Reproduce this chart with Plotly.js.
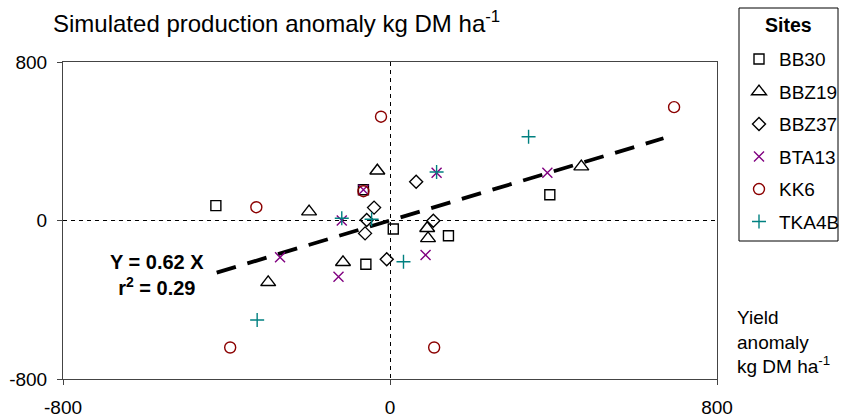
<!DOCTYPE html>
<html>
<head>
<meta charset="utf-8">
<script src="https://cdn.plot.ly/plotly-3.0.1.min.js"></script>
<style>html,body{margin:0;padding:0;background:#fff;}#chart{width:842px;height:417px;}</style>
</head>
<body>
<div id="chart"></div>
<script>
// Yield anomaly (x) vs simulated production anomaly (y), kg DM ha-1
var bb30X = [-426, -65, 8, 143, -59, 391];
var bb30Y = [75, 155, -43, -77, -221, 130];

var bbz19X = [-31, -198, 91, 93, -298, -115, 468];
var bbz19Y = [251, 45, -39, -90, -312, -211, 272];

var bbz37X = [-39, -57, -61, 64, 106, -8];
var bbz37Y = [65, 2, -65, 196, -1, -196];

var bta13X = [-65, -118, 114, 87, -269, -126, 385];
var bta13Y = [155, 0, 241, -174, -186, -284, 241];

var kk6X = [-22, -65, -327, -391, 108, 695];
var kk6Y = [524, 148, 67, -641, -641, 572];

var tka4bX = [-118, -45, 114, 33, -325, 339];
var tka4bY = [11, 6, 245, -208, -502, 423];

// fitted line Y = 0.62 X, end points
var trendX = [-424, 669];
var trendY = [-263, 415];

var axisTicks = [-800, 0, 800];
var siteNames = ['BB30', 'BBZ19', 'BBZ37', 'BTA13', 'KK6', 'TKA4B'];

var FONT = 'Liberation Sans, Arial, sans-serif';
var W = 842, H = 417;
var M = {l: 63, r: 125, t: 62, b: 38};
var PW = W - M.l - M.r, PH = H - M.t - M.b;
// convert page pixels to paper fractions (for legend frame / labels placed outside plot)
function px(xp) { return (xp - M.l) / PW; }
function py(yp) { return (H - M.b - yp) / PH; }

function site(i, xs, ys, symbol, size, color, lw) {
  return {
    type: 'scatter', mode: 'markers', x: xs, y: ys, name: siteNames[i],
    legendgroup: 'g' + i,
    marker: {symbol: symbol, size: size, color: color, line: {color: color, width: lw}},
    hoverinfo: 'x+y+name'
  };
}

var traces = [
  {type: 'scatter', mode: 'lines', x: trendX, y: trendY, showlegend: false,
   line: {color: '#000', width: 3.8, dash: '20px,12px'}, hoverinfo: 'skip'},
  site(0, bb30X, bb30Y, 'square-open', 10, '#000', 1.4),
  site(1, bbz19X, bbz19Y, 'triangle-up-open', 13, '#000', 1.4),
  site(2, bbz37X, bbz37Y, 'diamond-open', 10, '#000', 1.4),
  site(3, bta13X, bta13Y, 'x-thin-open', 10, '#800080', 1.4),
  site(4, kk6X, kk6Y, 'circle-open', 11, '#8b0000', 1.4),
  site(5, tka4bX, tka4bY, 'cross-thin-open', 10, '#008080', 1.4)
];

var axisCommon = {
  range: [-800, 800], tickvals: axisTicks, ticktext: axisTicks.map(String),
  ticks: 'outside', ticklen: 5, tickcolor: '#444', tickwidth: 1,
  showline: true, linecolor: '#444', linewidth: 1, mirror: true,
  showgrid: true, gridcolor: '#000', gridwidth: 1, griddash: '4px,4px',
  zeroline: false, fixedrange: true,
  tickfont: {family: FONT, size: 19, color: '#000'}
};

var LEG_FS = 19;

var layout = {
  width: W, height: H,
  margin: M,
  paper_bgcolor: '#fff', plot_bgcolor: '#fff',
  title: {
    text: 'Simulated production anomaly kg DM ha<sup>-1</sup>',
    font: {family: FONT, size: 24, color: '#000'},
    xref: 'container', yref: 'container', x: 53 / W, xanchor: 'left',
    y: 1 - 24 / H, yanchor: 'middle'
  },
  xaxis: Object.assign({}, axisCommon, {ticklabelstandoff: 6}),
  yaxis: Object.assign({}, axisCommon, {ticklabelstandoff: 6}),
  showlegend: true,
  legend: {
    xref: 'container', yref: 'container',
    x: 739 / W, xanchor: 'left', y: 1 - 40.2 / H, yanchor: 'top',
    borderwidth: 0, bgcolor: 'rgba(0,0,0,0)',
    font: {family: FONT, size: LEG_FS, color: '#000'},
    tracegroupgap: 4.8, maxheight: 400
  },
  shapes: [
    {type: 'rect', xref: 'paper', yref: 'paper',
     x0: px(739), x1: px(838), y0: py(241), y1: py(8),
     line: {color: '#000', width: 1}, fillcolor: 'rgba(0,0,0,0)', layer: 'above'}
  ],
  annotations: [
    {xref: 'paper', yref: 'paper', x: px(788.5), y: py(25), xanchor: 'center', yanchor: 'middle',
     text: '<b>Sites</b>', showarrow: false,
     font: {family: FONT, size: 19.5, color: '#000'}},
    {xref: 'x', yref: 'y', x: -571, y: -277, xanchor: 'center', yanchor: 'middle',
     text: '<b>Y = 0.62 X</b><br><b>r<sup>2</sup> = 0.29</b>', showarrow: false, align: 'center',
     font: {family: FONT, size: 20, color: '#000'}},
    {xref: 'paper', yref: 'paper', x: 1, xshift: 18, xanchor: 'left', y: py(342), yanchor: 'middle',
     text: 'Yield<br>anomaly<br>kg DM ha<sup>-1</sup>', showarrow: false, align: 'left',
     font: {family: FONT, size: 19, color: '#000'}}
  ]
};

Plotly.newPlot('chart', traces, layout, {displayModeBar: false, staticPlot: true});
</script>
</body>
</html>
